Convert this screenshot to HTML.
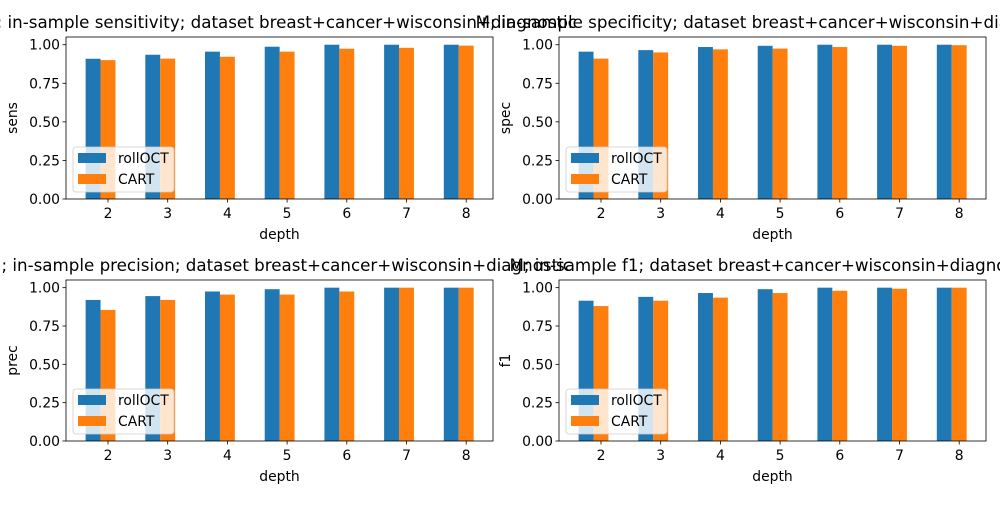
<!DOCTYPE html>
<html><head><meta charset="utf-8"><style>
body{margin:0;background:#fff;width:1000px;height:500px;overflow:hidden}
svg{font-family:"DejaVu Sans","Liberation Sans",sans-serif}
</style></head><body>
<svg id="chart" width="1000" height="500" xmlns="http://www.w3.org/2000/svg"></svg>
<script>
const categories = ["2","3","4","5","6","7","8"];
const seriesNames = ["rollOCT","CART"];
const yTicks = [0,0.25,0.5,0.75,1.0];
const yTickLabels = ["0.00","0.25","0.50","0.75","1.00"];
const sensOCT = [0.909,0.935,0.955,0.987,1,1,1];
const sensCART = [0.90,0.91,0.922,0.955,0.974,0.98,0.994];
const specOCT = [0.955,0.965,0.985,0.993,1,1,1];
const specCART = [0.91,0.95,0.97,0.975,0.985,0.993,0.997];
const precOCT = [0.92,0.945,0.975,0.99,1,1,1];
const precCART = [0.855,0.92,0.955,0.955,0.975,1,1];
const f1OCT = [0.915,0.94,0.965,0.99,1,1,1];
const f1CART = [0.88,0.915,0.935,0.965,0.98,0.993,1];
const titles = ["M; in-sample sensitivity; dataset breast+cancer+wisconsin+diagnostic","M; in-sample specificity; dataset breast+cancer+wisconsin+diagnostic","M; in-sample precision; dataset breast+cancer+wisconsin+diagnostic","M; in-sample f1; dataset breast+cancer+wisconsin+diagnostic"];
const ylabels = ["sens","spec","prec","f1"];

const svg=document.getElementById('chart');
const NS='http://www.w3.org/2000/svg';
function mk(tag,attrs,parent){const e=document.createElementNS(NS,tag);for(const k in attrs)e.setAttribute(k,attrs[k]);(parent||svg).appendChild(e);return e;}
const colors=["#1f77b4","#ff7f0e"];
const panels=[
 {x0:66,x1:493,y0:37,y1:199,d:[sensOCT,sensCART]},
 {x0:559,x1:986,y0:37,y1:199,d:[specOCT,specCART]},
 {x0:66,x1:493,y0:280,y1:441,d:[precOCT,precCART]},
 {x0:559,x1:986,y0:280,y1:441,d:[f1OCT,f1CART]}
];
const FS=13.9;
panels.forEach((p,pi)=>{
 const g=mk('g',{});
 
 
 const unit=59.7;
 const xs=i=>p.x0+42+i*unit;
 const ys=v=>p.y1-v/1.05*(p.y1-p.y0);
 p.d.forEach((arr,si)=>{
  arr.forEach((v,i)=>{
   const x=xs(i)+(si-1.5)*0.25*unit;
   const r=mk('rect',{x:x,y:ys(v),width:0.25*unit,height:p.y1-ys(v),fill:colors[si]},g);
   
   
  });
 });
 const box=mk('rect',{x:p.x0,y:p.y0,width:p.x1-p.x0,height:p.y1-p.y0,fill:'none',stroke:'#000','stroke-width':0.8},g);
 
 
 categories.forEach((c,i)=>{
  mk('line',{x1:xs(i),x2:xs(i),y1:p.y1,y2:p.y1+3.5,stroke:'#000','stroke-width':0.8},g);
  const t=mk('text',{x:xs(i),y:p.y1+19,'font-size':FS,'text-anchor':'middle'},g);t.textContent=c;
  
  
 });
 yTicks.forEach((v,i)=>{
  mk('line',{x1:p.x0-3.5,x2:p.x0,y1:ys(v),y2:ys(v),stroke:'#000','stroke-width':0.8},g);
  const t=mk('text',{x:p.x0-6,y:ys(v)+5,'font-size':FS,'text-anchor':'end'},g);t.textContent=yTickLabels[i];
  
  
 });
 const xl=mk('text',{x:(p.x0+p.x1)/2,y:p.y1+40,'font-size':FS,'text-anchor':'middle'},g);xl.textContent='depth';
 
 
 const yl=mk('text',{x:0,y:0,'font-size':FS,'text-anchor':'middle',transform:`translate(${p.x0-49},${(p.y0+p.y1)/2}) rotate(-90)`},g);yl.textContent=ylabels[pi];
 
 
 const tt=mk('text',{x:(p.x0+p.x1)/2,y:p.y0-9,'font-size':16.7,'text-anchor':'middle'},g);tt.textContent=titles[pi];
 
 
 const lg=mk('g',{},g);
 
 
 const lx=p.x0+7, ly=p.y1-52;
 mk('rect',{x:lx,y:ly,width:101,height:45,rx:3,fill:'#fff','fill-opacity':0.8,stroke:'#ccc','stroke-width':0.8},lg);
 seriesNames.forEach((s,si)=>{
  const e=mk('g',{},lg);
  
  
  mk('rect',{x:lx+5,y:ly+6+si*21,width:28,height:10,fill:colors[si]},e);
  const t=mk('text',{x:lx+45,y:ly+16+si*21,'font-size':FS},e);t.textContent=s;
 });
});
</script>
</body></html>
